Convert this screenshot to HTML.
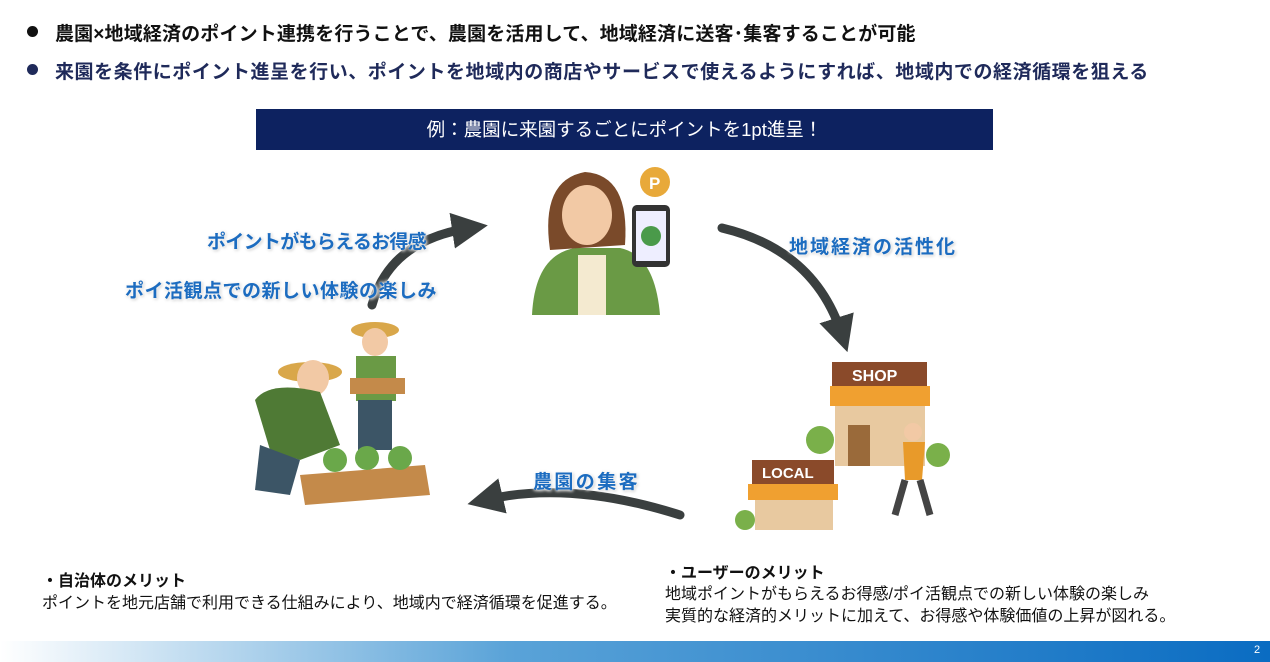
<!DOCTYPE html>
<html><head><meta charset="utf-8"><style>
body{margin:0;width:1270px;height:662px;background:#fff;position:relative;overflow:hidden;font-family:"Liberation Sans","Noto Sans CJK JP",sans-serif}
.a{position:absolute;white-space:nowrap}
.b{font-weight:bold;font-size:19px}
.lbl{position:absolute;white-space:nowrap;color:#1c6cc0;font-weight:bold;font-size:19px;text-shadow:0 0 3px #fff,0 0 4px #fff,1px 1px 3px #aaa}
.t{font-size:16px;color:#111}
.dot{position:absolute;width:11px;height:11px;border-radius:50%}
</style></head><body>
<div class="dot" style="left:27px;top:26px;background:#111"></div>
<div class="a b" style="left:55px;top:19px;color:#111;letter-spacing:0.15px">農園×地域経済のポイント連携を行うことで、農園を活用して、地域経済に送客･集客することが可能</div>
<div class="dot" style="left:27px;top:64px;background:#1f2a5a"></div>
<div class="a b" style="left:55px;top:57px;color:#1f2a5a;letter-spacing:0.55px">来園を条件にポイント進呈を行い、ポイントを地域内の商店やサービスで使えるようにすれば、地域内での経済循環を狙える</div>
<div class="a" style="left:256px;top:109px;width:737px;height:41px;background:#0d2260;color:#fff;font-size:18.5px;text-align:center;line-height:41px">例：農園に来園するごとにポイントを1pt進呈！</div>

<svg class="a" style="left:0;top:0" width="1270" height="662">
<defs><marker id="m" markerWidth="4" markerHeight="4" refX="2" refY="2" orient="auto"><path d="M0,0 L4,2 L0,4z" fill="#3a3f3f"/></marker></defs>
<g stroke="#3a3f3f" stroke-width="9" fill="none" stroke-linecap="round" marker-end="url(#m)">
<path d="M372,305 Q390,240 470,228"/>
<path d="M722,228 Q815,250 842,335"/>
<path d="M680,515 Q570,480 485,500"/>
</g>
<circle cx="655" cy="182" r="15" fill="#e8a93a"/><text x="649" y="189" font-size="17" font-weight="bold" fill="#fff" font-family="Liberation Sans">P</text>
<path d="M532,315 Q535,255 575,248 L620,248 Q655,255 660,315z" fill="#6a9a45"/>
<rect x="578" y="255" width="28" height="60" fill="#f4ead0"/>
<path d="M550,250 Q540,180 585,172 Q630,175 625,245z" fill="#7a4a2a"/>
<ellipse cx="587" cy="215" rx="25" ry="30" fill="#f2c9a5"/>
<rect x="632" y="205" width="38" height="62" rx="5" fill="#333"/><rect x="636" y="211" width="30" height="50" fill="#eef"/>
<circle cx="651" cy="236" r="10" fill="#4a9a4a"/>
<ellipse cx="310" cy="372" rx="32" ry="10" fill="#d9a74a"/><ellipse cx="313" cy="378" rx="16" ry="18" fill="#f2c9a5"/>
<path d="M255,400 Q270,380 320,392 L340,445 L300,460 L270,450z" fill="#4f7a35"/>
<path d="M260,445 L300,460 L290,495 L255,490z" fill="#3c5566"/>
<ellipse cx="375" cy="330" rx="24" ry="8" fill="#d9a74a"/><ellipse cx="375" cy="342" rx="13" ry="14" fill="#f2c9a5"/>
<rect x="356" y="356" width="40" height="45" fill="#6a9a45"/><rect x="358" y="400" width="34" height="50" fill="#3c5566"/>
<rect x="350" y="378" width="55" height="16" fill="#c48a4a"/>
<path d="M300,475 L425,465 L430,495 L305,505z" fill="#c48a4a"/>
<circle cx="335" cy="460" r="12" fill="#6aa84a"/><circle cx="367" cy="458" r="12" fill="#6aa84a"/><circle cx="400" cy="458" r="12" fill="#6aa84a"/>
<rect x="832" y="362" width="95" height="24" fill="#8a4a2a"/><text x="852" y="381" font-size="16" font-weight="bold" fill="#fff" font-family="Liberation Sans">SHOP</text>
<rect x="830" y="386" width="100" height="20" fill="#f0a030"/>
<rect x="835" y="406" width="90" height="60" fill="#e8c9a0"/><rect x="848" y="425" width="22" height="41" fill="#9a6a3a"/>
<rect x="752" y="460" width="82" height="24" fill="#8a4a2a"/><text x="762" y="478" font-size="15" font-weight="bold" fill="#fff" font-family="Liberation Sans">LOCAL</text>
<rect x="748" y="484" width="90" height="16" fill="#f0a030"/><rect x="755" y="500" width="78" height="30" fill="#e8c9a0"/>
<circle cx="820" cy="440" r="14" fill="#7ab04a"/><circle cx="938" cy="455" r="12" fill="#7ab04a"/><circle cx="745" cy="520" r="10" fill="#7ab04a"/>
<circle cx="913" cy="432" r="9" fill="#f2c9a5"/><path d="M903,442 L925,442 L922,480 L905,480z" fill="#e89a2a"/>
<path d="M905,480 L895,515 M920,480 L930,515" stroke="#444" stroke-width="7"/>
</svg>

<div class="lbl" style="left:207px;top:227px;letter-spacing:-0.7px">ポイントがもらえるお得感</div>
<div class="lbl" style="left:125px;top:276px;letter-spacing:0.5px">ポイ活観点での新しい体験の楽しみ</div>
<div class="lbl" style="left:789px;top:232px;letter-spacing:2px">地域経済の活性化</div>
<div class="lbl" style="left:533px;top:467px;letter-spacing:2.4px">農園の集客</div>

<div class="a t" style="left:42px;top:567px;font-weight:bold">・自治体のメリット</div>
<div class="a t" style="left:42px;top:589px">ポイントを地元店舗で利用できる仕組みにより、地域内で経済循環を促進する。</div>
<div class="a t" style="left:665px;top:559px;font-weight:bold">・ユーザーのメリット</div>
<div class="a t" style="left:665px;top:580px">地域ポイントがもらえるお得感/ポイ活観点での新しい体験の楽しみ</div>
<div class="a t" style="left:665px;top:602px">実質的な経済的メリットに加えて、お得感や体験価値の上昇が図れる。</div>

<div class="a" style="left:0;top:641px;width:1270px;height:21px;background:linear-gradient(to right,#fff 0%,#5aa3d8 40%,#0a6cc2 100%)"></div>
<div class="a" style="left:1254px;top:644px;color:#fff;font-size:11px">2</div>
</body></html>
